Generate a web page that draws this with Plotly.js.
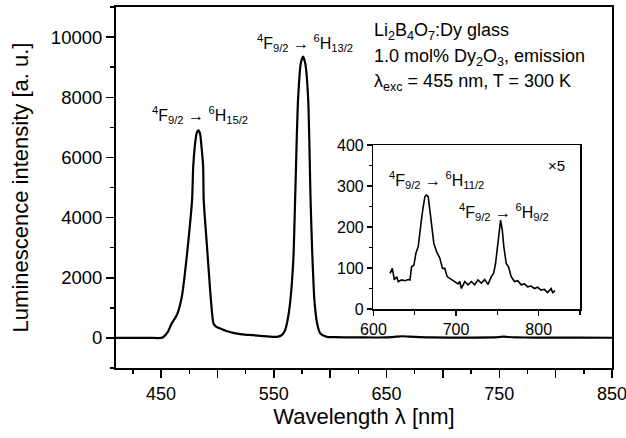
<!DOCTYPE html>
<html>
<head>
<meta charset="utf-8">
<script src="https://cdn.plot.ly/plotly-3.0.1.min.js"></script>
<style>html,body{margin:0;padding:0;background:#fff;}#chart{width:626px;height:438px;}</style>
</head>
<body>
<div id="chart"></div>
<script>
// Main emission spectrum (wavelength nm, intensity a.u.)
const mainWavelength = [410, 440, 450, 452, 456, 459.5, 464, 468.4, 471.3, 474.3, 477.5, 478.5, 480, 481.5, 483, 484.5, 486, 487.3, 487.8, 490, 492, 494.2, 496.5, 499, 502.5, 508, 514, 522, 531.8, 540, 549.6, 554, 557, 560, 562, 564.4, 567.3, 568.9, 571.5, 574, 576, 578, 580.5, 582.6, 584, 586, 588.4, 591.3, 597, 605, 620, 640, 650, 658, 664, 670, 680, 690, 720, 745, 750, 754, 758, 765, 780, 800, 820, 850];
const mainIntensity = [0, 0, 0, 30, 200, 490, 760, 1370, 2200, 3260, 4590, 5700, 6400, 6800, 6900, 6800, 6300, 5700, 4590, 3400, 2370, 1257, 480, 370, 313, 230, 167, 120, 90, 60, 33, 45, 90, 257, 550, 1150, 2590, 4590, 7920, 9150, 9350, 9100, 7920, 4590, 2920, 1257, 480, 147, 33, 25, 18, 14, 20, 40, 56, 40, 24, 15, 12, 17, 30, 43, 30, 18, 12, 10, 8, 5];

// Inset (x5) spectrum
const insetWavelength = [620.1, 622.9, 625.3, 628.2, 630, 634.2, 638.2, 642.2, 644.2, 646.2, 649, 651.4, 654.2, 656.3, 658.3, 660.3, 662.3, 664.3, 666.3, 668.3, 670.4, 673.1, 676.4, 680.4, 683.6, 686.4, 689.2, 694.5, 698.4, 702.4, 704.5, 706.5, 710.5, 714.5, 718.6, 722.5, 726.5, 730.6, 734.6, 738.6, 742.7, 745.4, 747.8, 749.9, 751.8, 753.9, 755.9, 757.8, 760.7, 763.5, 766.7, 770.7, 774.7, 778.8, 782.8, 786.7, 790.8, 794.8, 798.8, 802.9, 806.9, 810.8, 815, 816.9, 819.8];
const insetIntensity = [87, 99, 71, 79, 67, 71, 69, 72, 71, 103, 107, 136, 152, 193, 221, 250, 274, 278, 274, 241, 201, 160, 140, 124, 99, 99, 79, 72, 67, 61, 67, 50, 67, 59, 67, 59, 71, 63, 72, 60, 79, 87, 111, 152, 193, 217, 193, 152, 111, 103, 79, 67, 69, 59, 61, 54, 56, 50, 53, 46, 48, 40, 50, 40, 45];

// Tick labels
const mainXTickVals = [450, 500, 550, 600, 650, 700, 750, 800, 850];
const mainXTickText = ['450', '', '550', '', '650', '', '750', '', '850'];
const mainYTickVals = [0, 2000, 4000, 6000, 8000, 10000];
const mainYTickText = ['0', '2000', '4000', '6000', '8000', '10000'];

const FONT = 'Liberation Sans, Arial, Helvetica, sans-serif';

const traces = [
  {x: mainWavelength, y: mainIntensity, xaxis: 'x', yaxis: 'y', type: 'scatter', mode: 'lines',
   line: {color: '#000', width: 2.2, shape: 'spline', smoothing: 0.6}, hoverinfo: 'skip'},
  {x: insetWavelength, y: insetIntensity, xaxis: 'x3', yaxis: 'y3', type: 'scatter', mode: 'lines',
   line: {color: '#000', width: 1.6}, hoverinfo: 'skip'}
];

const sup = s => '<sup>' + s + '</sup>';
const sub = s => '<sub>' + s + '</sub>';
const trans = h => sup('4') + 'F' + sub('9/2') + ' \u2192 ' + sup('6') + 'H' + sub(h);

const ann = (text, x, y, size, xanchor) => ({text: text, x: x, y: y, xref: 'paper', yref: 'paper',
  showarrow: false, xanchor: xanchor || 'center', yanchor: 'middle', font: {family: FONT, size: size, color: '#000'}});

const layout = {
  width: 626, height: 438,
  margin: {l: 116, r: 14, t: 7, b: 70},
  paper_bgcolor: '#fff', plot_bgcolor: 'rgba(0,0,0,0)',
  showlegend: false,
  font: {family: FONT, color: '#000'},
  xaxis: {
    range: [410, 850], domain: [0, 1], anchor: 'y',
    tickmode: 'array', tickvals: mainXTickVals, ticktext: mainXTickText,
    ticks: 'outside', ticklen: 8, tickwidth: 1.5, tickcolor: '#000',
    minor: {dtick: 25, tick0: 425, ticks: 'outside', ticklen: 4, tickwidth: 1.5, tickcolor: '#000'},
    showline: true, linewidth: 2, linecolor: '#000', mirror: true,
    showgrid: false, zeroline: false, ticklabeloverflow: 'allow',
    tickfont: {family: FONT, size: 18, color: '#000'},
    title: {text: 'Wavelength \u03bb [nm]', font: {family: FONT, size: 22, color: '#000'}, standoff: 6}
  },
  xaxis2: {
    overlaying: 'x', side: 'top', anchor: 'y', range: [0, 10], dtick: 1,
    ticks: 'inside', ticklen: 3, tickwidth: 1.5, tickcolor: '#000',
    showticklabels: false, showline: false, showgrid: false, zeroline: false
  },
  yaxis: {
    range: [-1000, 11000], domain: [0, 1], anchor: 'x',
    tickmode: 'array', tickvals: mainYTickVals, ticktext: mainYTickText,
    ticks: 'outside', ticklen: 8, tickwidth: 1.5, tickcolor: '#000',
    minor: {dtick: 1000, tick0: 1000, ticks: 'outside', ticklen: 4, tickwidth: 1.5, tickcolor: '#000'},
    showline: true, linewidth: 2, linecolor: '#000', mirror: true,
    showgrid: false, zeroline: false,
    tickfont: {family: FONT, size: 18.5, color: '#000'},
    title: {text: 'Luminescence intensity [a. u.]', font: {family: FONT, size: 22, color: '#000'}, standoff: 16}
  },
  xaxis3: {
    range: [600, 850], domain: [0.519, 0.9355], anchor: 'y3',
    dtick: 100, tick0: 600,
    ticks: 'outside', ticklen: 5, tickwidth: 1.2, tickcolor: '#000',
    minor: {dtick: 50, tick0: 600, ticks: 'outside', ticklen: 4, tickwidth: 1.2, tickcolor: '#000'},
    showline: true, linewidth: 1.5, linecolor: '#000', mirror: true,
    showgrid: false, zeroline: false,
    tickfont: {family: FONT, size: 16, color: '#000'}
  },
  yaxis3: {
    range: [0, 400], domain: [0.1634, 0.6177], anchor: 'x3',
    dtick: 100, tick0: 0,
    ticks: 'outside', ticklen: 5, tickwidth: 1.2, tickcolor: '#000',
    minor: {dtick: 50, tick0: 0, ticks: 'outside', ticklen: 3, tickwidth: 1.2, tickcolor: '#000'},
    showline: true, linewidth: 1.5, linecolor: '#000', mirror: true,
    showgrid: false, zeroline: false,
    tickfont: {family: FONT, size: 16, color: '#000'}
  },
  yaxis4: {
    overlaying: 'y3', side: 'right', anchor: 'x3', range: [0, 10], dtick: 1,
    ticks: 'inside', ticklen: 3, tickwidth: 1.2, tickcolor: '#000',
    showticklabels: false, showline: false, showgrid: false, zeroline: false
  },
  annotations: [
    ann(trans('15/2'), 0.169, 0.701, 16),
    ann(trans('13/2'), 0.382, 0.900, 16),
    ann('Li' + sub('2') + 'B' + sub('4') + 'O' + sub('7') + ':Dy glass', 0.516, 0.931, 18, 'left'),
    ann('1.0 mol% Dy' + sub('2') + 'O' + sub('3') + ', emission', 0.516, 0.859, 18, 'left'),
    ann('\u03bb' + sub('exc') + ' = 455 nm, T = 300 K', 0.516, 0.792, 18, 'left'),
    ann(trans('11/2'), 0.646, 0.521, 16),
    ann(trans('9/2'), 0.782, 0.432, 16),
    ann('\u00d75', 0.888, 0.562, 15)
  ]
};

Plotly.newPlot('chart', traces, layout, {staticPlot: true, displayModeBar: false});
</script>
</body>
</html>
